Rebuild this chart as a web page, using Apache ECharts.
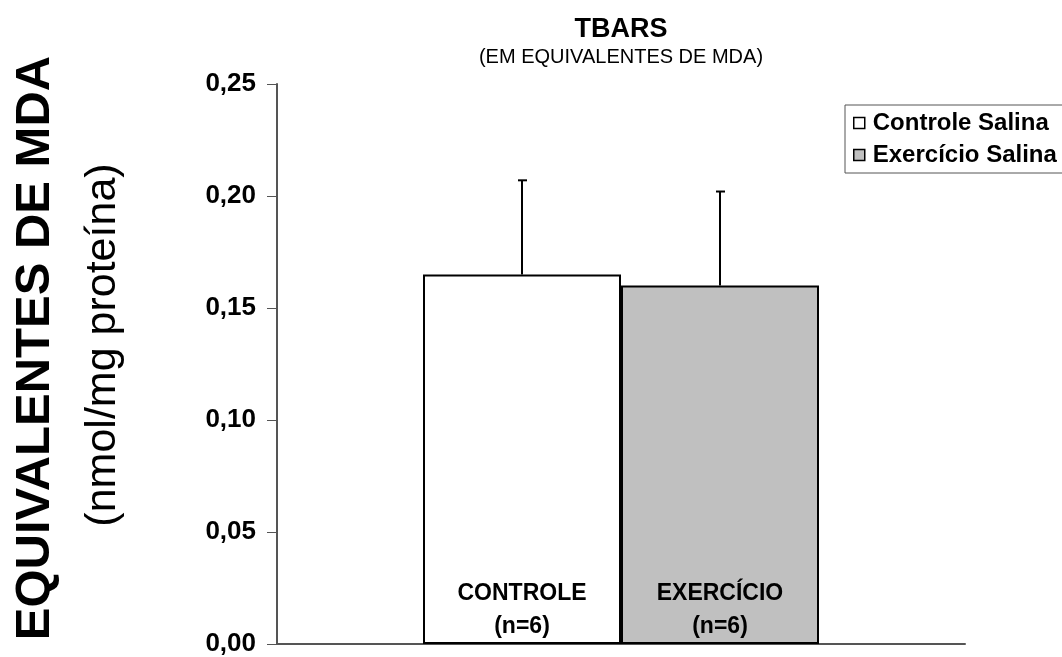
<!DOCTYPE html>
<html>
<head>
<meta charset="utf-8">
<script src="https://cdn.jsdelivr.net/npm/echarts@6/dist/echarts.min.js"></script>
<style>html,body{margin:0;padding:0;background:#fff;}#c{width:1062px;height:657px;}</style>
</head>
<body>
<div id="c"></div>
<script>
var categories = [''];
var seriesNames = ['Controle Salina', 'Exercício Salina'];
var barLabels = ['CONTROLE\n(n=6)', 'EXERCÍCIO\n(n=6)'];
var controleValues = [0.165];
var exercicioValues = [0.160];
var controleErr = [0.042];
var exercicioErr = [0.042];
var yTicks = [0, 0.05, 0.10, 0.15, 0.20, 0.25];

var FONT = 'Liberation Sans, Arial, sans-serif';
var BAR_W = 198;

var chart = echarts.init(document.getElementById('c'));

function errSeries(vals, errs, offsetSign) {
  return {
    type: 'custom',
    silent: true,
    z: 5,
    data: vals.map(function (v, i) { return [i, v, errs[i]]; }),
    renderItem: function (params, api) {
      var i = api.value(0), v = api.value(1), e = api.value(2);
      var p0 = api.coord([i, v]);
      var p1 = api.coord([i, v + e]);
      var x = p0[0] + offsetSign * BAR_W / 2;
      return {
        type: 'group',
        children: [
          { type: 'line', shape: { x1: x, y1: p0[1], x2: x, y2: p1[1] }, style: { stroke: '#000', lineWidth: 2 } },
          { type: 'line', shape: { x1: x - 4, y1: p1[1], x2: x + 5, y2: p1[1] }, style: { stroke: '#000', lineWidth: 2 } }
        ]
      };
    }
  };
}

var labelStyle = {
  show: true,
  position: 'insideBottom',
  distance: 1,
  fontFamily: FONT,
  fontWeight: 'bold',
  fontSize: 23,
  lineHeight: 33,
  color: '#000'
};

chart.setOption({
  backgroundColor: '#fff',
  animation: false,
  legend: {
    data: seriesNames,
    orient: 'vertical',
    left: 845,
    top: 105,
    itemWidth: 11,
    itemHeight: 11,
    itemGap: 6,
    padding: [5, 40, 5, 8],
    borderColor: '#555',
    borderWidth: 1,
    icon: 'rect',
    selectedMode: false,
    itemStyle: { borderColor: '#000', borderWidth: 1.5 },
    textStyle: { fontFamily: FONT, fontWeight: 'bold', fontSize: 24, lineHeight: 26, color: '#000', padding: [0, 0, 0, 3] }
  },
  grid: { left: 277, right: 97, top: 84, bottom: 13, containLabel: false },
  xAxis: {
    type: 'category',
    data: categories,
    axisLine: { lineStyle: { color: '#555', width: 2 } },
    axisTick: { show: false },
    axisLabel: { show: false }
  },
  yAxis: {
    type: 'value',
    min: 0,
    max: 0.25,
    interval: 0.05,
    axisLine: { show: true, lineStyle: { color: '#555', width: 2 } },
    axisTick: { show: true, length: 10, lineStyle: { color: '#555', width: 1 } },
    splitLine: { show: false },
    axisLabel: {
      margin: 21,
      fontFamily: FONT,
      fontWeight: 'bold',
      fontSize: 26,
      color: '#000',
      formatter: function (v) { return v.toFixed(2).replace('.', ','); }
    }
  },
  graphic: [
    {
      type: 'text', x: 621, y: 30,
      style: { text: 'TBARS', font: 'bold 27px ' + FONT, fill: '#000', textAlign: 'center', textVerticalAlign: 'middle' }
    },
    {
      type: 'text', x: 621, y: 57,
      style: { text: '(EM EQUIVALENTES DE MDA)', font: '20px ' + FONT, fill: '#000', textAlign: 'center', textVerticalAlign: 'middle' }
    },
    {
      type: 'text', x: 35, y: 348, rotation: Math.PI / 2,
      style: { text: 'EQUIVALENTES DE MDA', font: 'bold 49px ' + FONT, fill: '#000', textAlign: 'center', textVerticalAlign: 'middle' }
    },
    {
      type: 'text', x: 103, y: 345, rotation: Math.PI / 2,
      style: { text: '(nmol/mg proteína)', font: '43px ' + FONT, fill: '#000', textAlign: 'center', textVerticalAlign: 'middle' }
    }
  ],
  series: [
    {
      name: seriesNames[0],
      type: 'bar',
      barWidth: BAR_W,
      barGap: '0%',
      data: controleValues,
      itemStyle: { color: '#ffffff', borderColor: '#000', borderWidth: 2 },
      label: Object.assign({}, labelStyle, { formatter: barLabels[0] })
    },
    {
      name: seriesNames[1],
      type: 'bar',
      barWidth: BAR_W,
      barGap: '0%',
      data: exercicioValues,
      itemStyle: { color: '#c0c0c0', borderColor: '#000', borderWidth: 2 },
      label: Object.assign({}, labelStyle, { formatter: barLabels[1] })
    },
    errSeries(controleValues, controleErr, -1),
    errSeries(exercicioValues, exercicioErr, 1)
  ]
});
</script>
</body>
</html>
